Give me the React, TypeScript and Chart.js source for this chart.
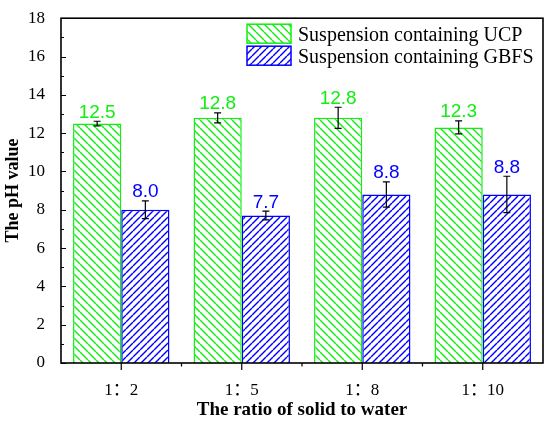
import React, { useEffect, useRef } from "react";
import { Chart, registerables } from "chart.js";

Chart.register(...registerables);

const categories = ["1：2", "1：5", "1：8", "1：10"];
const ucpValues = [12.5, 12.8, 12.8, 12.3];
const gbfsValues = [8.0, 7.7, 8.8, 8.8];
const ucpErrors = [0.12, 0.26, 0.55, 0.34];
const gbfsErrors = [0.46, 0.23, 0.66, 0.95];
const seriesNames = ["Suspension containing UCP", "Suspension containing GBFS"];
const yMin = 0;
const yMax = 18;
const yStep = 2;

const GREEN = "#11ee11";
const BLUE = "#0000ff";
const SERIF = "'Liberation Serif', 'Noto Sans CJK SC', serif";
const SANS = "'Liberation Sans', Arial, sans-serif";

function makeHatch(color: string, size: number, back: boolean) {
  const c = document.createElement("canvas");
  c.width = size;
  c.height = size;
  const g = c.getContext("2d")!;
  g.fillStyle = "#ffffff";
  g.fillRect(0, 0, size, size);
  g.strokeStyle = color;
  g.lineWidth = 1.4;
  for (let k = -1; k <= 1; k++) {
    g.beginPath();
    if (back) {
      g.moveTo(k * size, 0);
      g.lineTo(k * size + size, size);
    } else {
      g.moveTo(k * size, size);
      g.lineTo(k * size + size, 0);
    }
    g.stroke();
  }
  return g.createPattern(c, "repeat")!;
}

export default function App() {
  const ref = useRef<HTMLCanvasElement>(null);

  useEffect(() => {
    document.body.style.margin = "0";
    const canvas = ref.current!;
    const greenPat = makeHatch(GREEN, 8, true);
    const bluePat = makeHatch(BLUE, 7, false);
    const errorSets = [ucpErrors, gbfsErrors];
    const colors = [GREEN, BLUE];
    const patterns = [greenPat, bluePat];

    const decor = {
      id: "decor",
      afterDatasetsDraw(chart: any) {
        const { ctx, chartArea: a } = chart;
        const x = chart.scales.x;
        const y = chart.scales.y;
        ctx.save();
        chart.data.datasets.forEach((ds: any, i: number) => {
          const meta = chart.getDatasetMeta(i);
          meta.data.forEach((bar: any, j: number) => {
            const v = ds.data[j];
            const e = errorSets[i][j];
            const yt = y.getPixelForValue(v + e);
            const yb = y.getPixelForValue(v - e);
            const bx = bar.x;
            ctx.strokeStyle = "#000";
            ctx.lineWidth = 1.2;
            ctx.beginPath();
            ctx.moveTo(bx, yt);
            ctx.lineTo(bx, yb);
            ctx.moveTo(bx - 3.5, yt);
            ctx.lineTo(bx + 3.5, yt);
            ctx.moveTo(bx - 3.5, yb);
            ctx.lineTo(bx + 3.5, yb);
            ctx.stroke();
            ctx.fillStyle = colors[i];
            ctx.font = `19px ${SANS}`;
            ctx.textAlign = "center";
            ctx.textBaseline = "alphabetic";
            ctx.fillText(v.toFixed(1), bx, yt - 3.5);
          });
        });
        ctx.strokeStyle = "#000";
        ctx.lineWidth = 1.6;
        ctx.strokeRect(a.left, a.top, a.right - a.left, a.bottom - a.top);
        ctx.lineWidth = 1.2;
        ctx.beginPath();
        for (let v = yMin; v <= yMax; v += 1) {
          const py = Math.round(y.getPixelForValue(v)) + 0.5;
          const len = v % yStep === 0 ? 5 : 3;
          ctx.moveTo(a.left, py);
          ctx.lineTo(a.left + len, py);
        }
        for (let i = 0; i < categories.length; i++) {
          const px = x.getPixelForValue(i);
          ctx.moveTo(px, a.bottom);
          ctx.lineTo(px, a.bottom + 7);
          if (i < categories.length - 1) {
            const mx = (px + x.getPixelForValue(i + 1)) / 2;
            ctx.moveTo(mx, a.bottom);
            ctx.lineTo(mx, a.bottom + 3.5);
          }
        }
        ctx.stroke();
        const lx = a.right - 296;
        const rows = [a.top + 6, a.top + 28];
        for (let i = 0; i < 2; i++) {
          const ry = rows[i];
          ctx.fillStyle = patterns[i];
          ctx.fillRect(lx, ry, 44, 19);
          ctx.strokeStyle = colors[i];
          ctx.lineWidth = 1.5;
          ctx.strokeRect(lx, ry, 44, 19);
          ctx.fillStyle = "#000";
          ctx.font = `20px ${SERIF}`;
          ctx.textAlign = "left";
          ctx.textBaseline = "alphabetic";
          ctx.fillText(seriesNames[i], lx + 51, ry + 16.5);
        }
        ctx.restore();
      },
    };

    const chart = new Chart(canvas, {
      type: "bar",
      data: {
        labels: categories,
        datasets: [
          {
            label: seriesNames[0],
            data: ucpValues,
            backgroundColor: greenPat,
            borderColor: GREEN,
            borderWidth: 1.5,
          },
          {
            label: seriesNames[1],
            data: gbfsValues,
            backgroundColor: bluePat,
            borderColor: BLUE,
            borderWidth: 1.5,
          },
        ],
      },
      options: {
        responsive: false,
        animation: false,
        layout: { padding: { top: 14, right: 7, left: 3, bottom: 2 } },
        datasets: { bar: { categoryPercentage: 0.8, barPercentage: 1.0 } },
        plugins: {
          legend: { display: false },
          tooltip: { enabled: false },
        },
        scales: {
          x: {
            offset: true,
            grid: { display: false },
            border: { display: false },
            ticks: {
              color: "#000",
              padding: 9,
              font: { family: SERIF, size: 17 },
              maxRotation: 0,
            },
            title: {
              display: true,
              text: "The ratio of solid to water",
              color: "#000",
              padding: 0,
              font: { family: SERIF, size: 19, weight: "bold" },
            },
            afterFit(scale: any) {
              scale.height = 58;
            },
          },
          y: {
            min: yMin,
            max: yMax,
            grid: { display: false },
            border: { display: false },
            ticks: {
              stepSize: yStep,
              color: "#000",
              padding: 8,
              font: { family: SERIF, size: 17 },
            },
            title: {
              display: true,
              text: "The pH value",
              color: "#000",
              padding: 0,
              font: { family: SERIF, size: 18, weight: "bold" },
            },
            afterFit(scale: any) {
              scale.width = 58;
            },
          },
        },
      },
      plugins: [decor],
    } as any);

    return () => chart.destroy();
  }, []);

  return (
    <div style={{ width: 550, height: 423 }}>
      <canvas ref={ref} width={550} height={423} />
    </div>
  );
}
